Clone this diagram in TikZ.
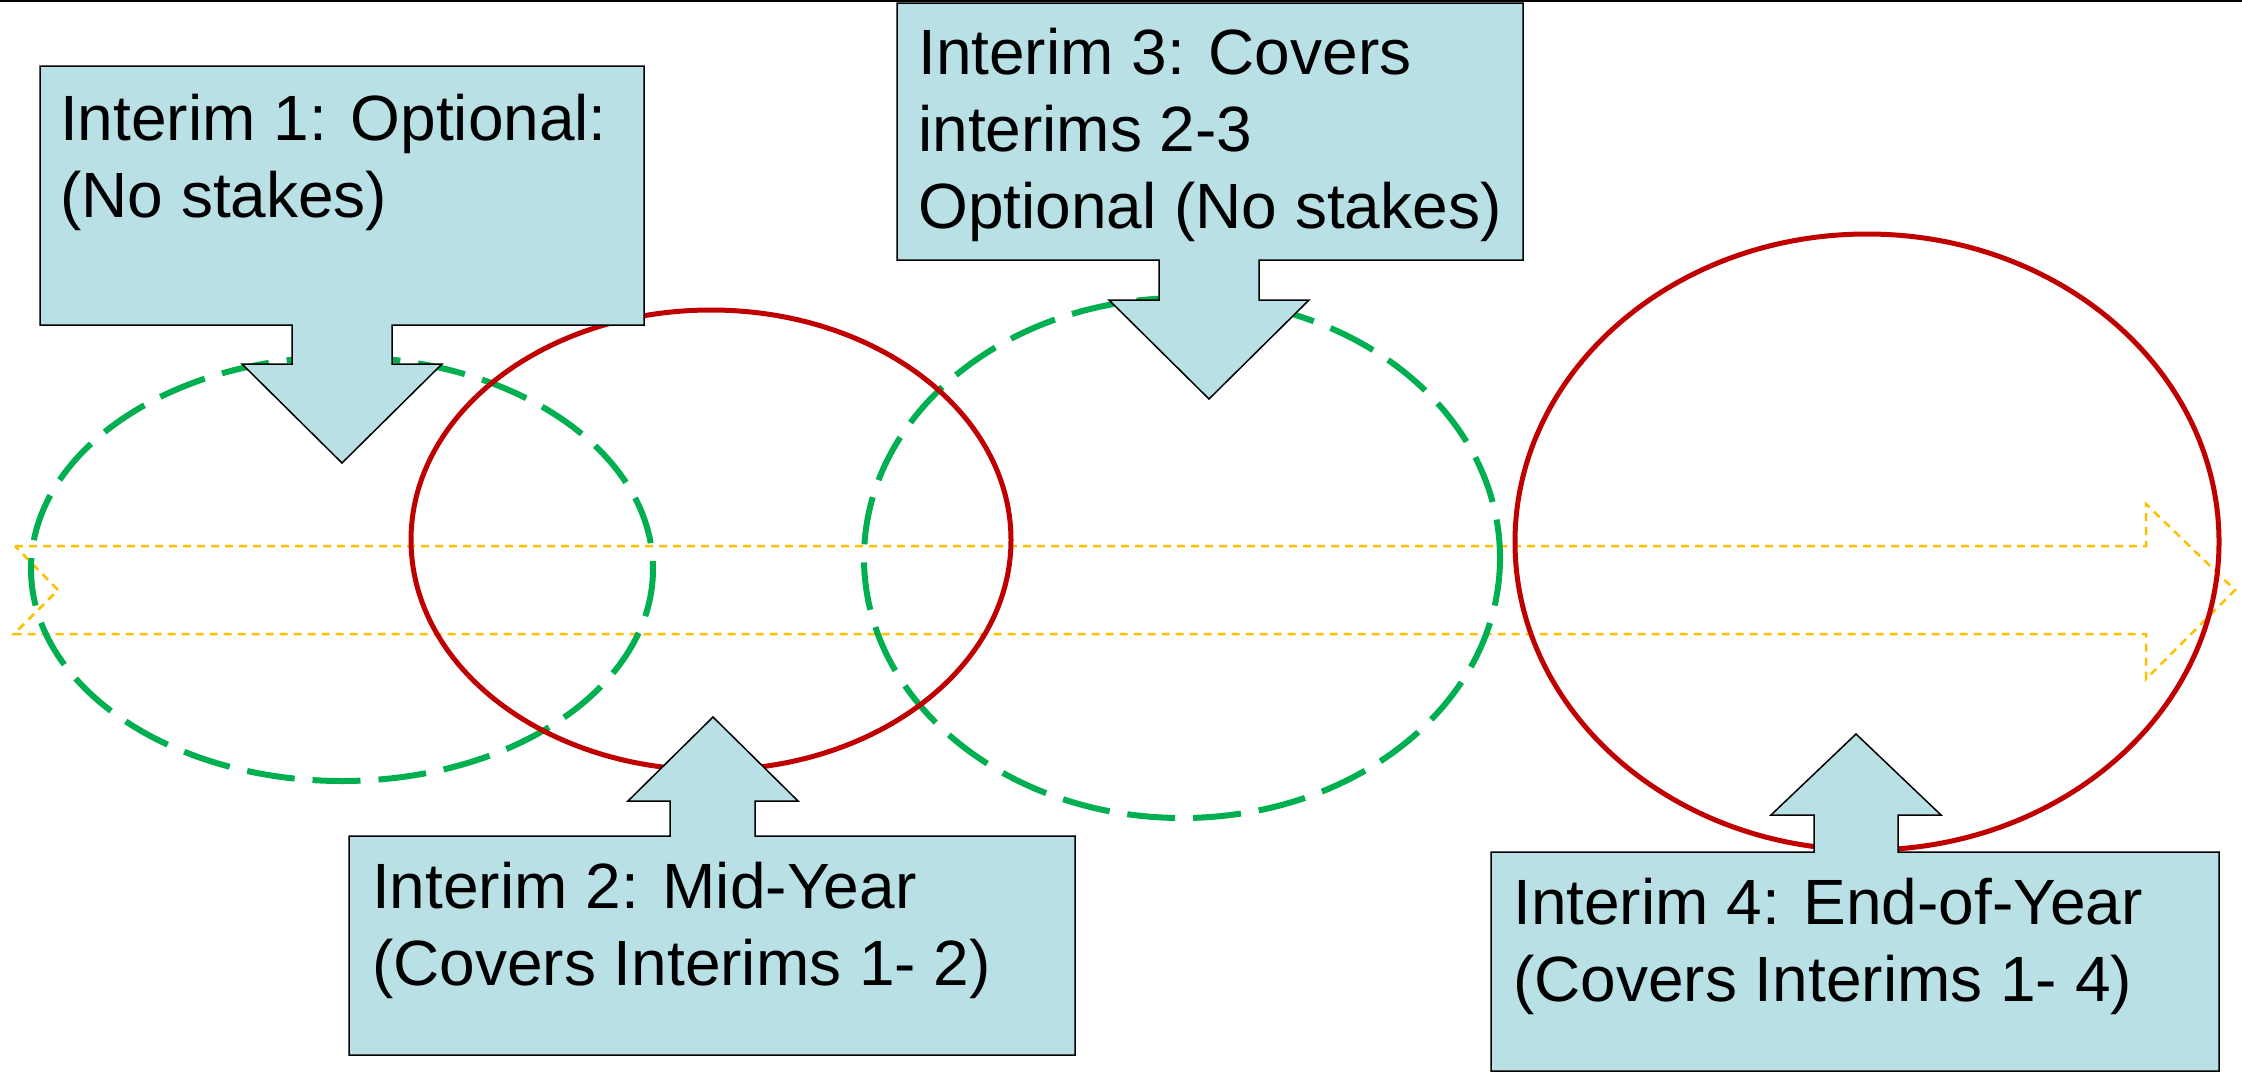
\documentclass[tikz,border=0pt]{standalone}
\usepackage{fontspec}
\setmainfont{Liberation Sans}
\definecolor{boxfill}{RGB}{185,224,228}
\definecolor{ringgreen}{RGB}{0,176,80}
\definecolor{ringred}{RGB}{192,0,0}
\definecolor{timeline}{RGB}{255,192,0}
\begin{document}
\begin{tikzpicture}[x=1pt,y=-1pt,
  callout/.style={fill=boxfill,draw=black,line width=1.5pt,line join=miter},
  % multi-line labels are placed by the baseline of their last line
  label/.style={anchor=base west,align=left,inner sep=0pt,
    font=\fontsize{64}{77}\selectfont},
  optional/.style={draw=ringgreen,line width=6pt,dash pattern=on 48pt off 18pt},
  stakes/.style={draw=ringred,line width=5pt},
  timearrow/.style={draw=timeline,line width=2.5pt,dash pattern=on 8pt off 6pt}]
\useasboundingbox (0,0) rectangle (2242,1074);

% notched timeline arrow
\draw[timearrow] (15,546) -- (2146,546) -- (2146,504) -- (2235,590)
  -- (2146,679) -- (2146,634) -- (14,634) -- (58,590) -- cycle;

% optional interims (dashed) and stakes interims (solid)
\draw[optional] (342,569) ellipse [x radius=311, y radius=212];
\draw[optional] (1182,558) ellipse [x radius=318, y radius=260];
\draw[stakes] (711,540) ellipse [x radius=300, y radius=230];
\draw[stakes] (1867,542) ellipse [x radius=352, y radius=308];

% down-arrow callouts
\draw[callout] (40,66) -- (644,66) -- (644,325) -- (392,325) -- (392,364)
  -- (442,364) -- (342,463) -- (242,364) -- (292,364) -- (292,325)
  -- (40,325) -- cycle;
\draw[callout] (897,3) -- (1523,3) -- (1523,260) -- (1259,260) -- (1259,300)
  -- (1309,300) -- (1209,399) -- (1109,300) -- (1159,300) -- (1159,260)
  -- (897,260) -- cycle;

% up-arrow callouts
\draw[callout] (349,1055) -- (349,836) -- (670,836) -- (670,801) -- (628,801)
  -- (713,717) -- (798,801) -- (755,801) -- (755,836) -- (1075,836)
  -- (1075,1055) -- cycle;
\draw[callout] (1491,1071) -- (1491,852) -- (1814,852) -- (1814,815)
  -- (1771,815) -- (1856,734) -- (1941,815) -- (1898,815) -- (1898,852)
  -- (2219,852) -- (2219,1071) -- cycle;

% callout texts
\node[label] (t1) at (60,217) {Interim 1: Optional:\\(No stakes)};
\node[label] (t3) at (918,228) {Interim 3: Covers\\interims 2-3\\Optional (No stakes)};
\node[label] (t2) at (372,985) {Interim 2: Mid-Year\\(Covers Interims 1- 2)};
\node[label] (t4) at (1513,1001) {Interim 4: End-of-Year\\(Covers Interims 1- 4)};

% top rule
\draw[line width=2.5pt] (0,1.2) -- (2242,1.2);
\end{tikzpicture}
\end{document}
